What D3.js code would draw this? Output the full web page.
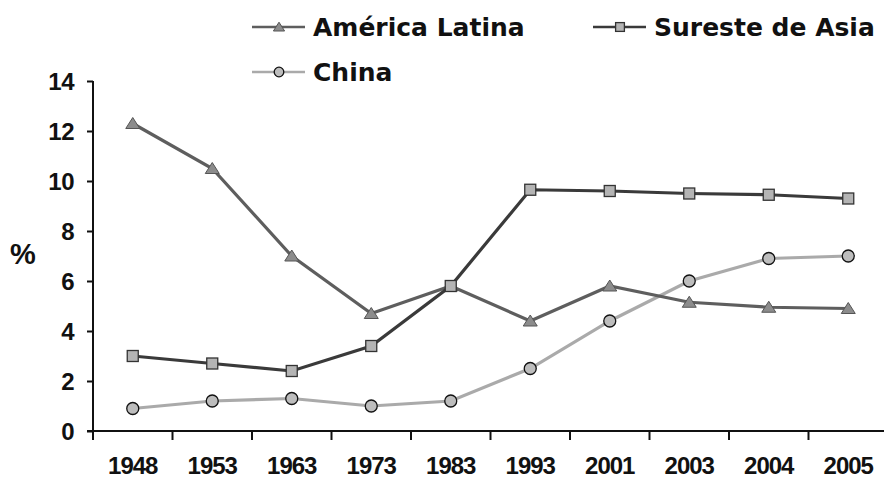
<!DOCTYPE html>
<html>
<head>
<meta charset="utf-8">
<script src="https://cdn.jsdelivr.net/npm/d3@7"></script>
<style>
  body { margin: 0; background: #fff; }
  svg text { font-family: "Liberation Sans", Arial, sans-serif; font-weight: bold; fill: #111; }
  .legend text { font-family: "DejaVu Sans", Verdana, sans-serif; }
</style>
</head>
<body>
<svg width="884" height="479"></svg>
<script>
// data
var years = ["1948", "1953", "1963", "1973", "1983", "1993", "2001", "2003", "2004", "2005"];
var americaLatina = [12.3, 10.5, 7.0, 4.7, 5.8, 4.4, 5.8, 5.15, 4.95, 4.9];
var suresteAsia = [3.0, 2.7, 2.4, 3.4, 5.8, 9.65, 9.6, 9.5, 9.45, 9.3];
var china = [0.9, 1.2, 1.3, 1.0, 1.2, 2.5, 4.4, 6.0, 6.9, 7.0];
var yTicks = [0, 2, 4, 6, 8, 10, 12, 14];

var series = [
  { name: "América Latina", values: americaLatina, line: "#5e5e5e", fill: "#8c8c8c", marker: "triangle" },
  { name: "Sureste de Asia", values: suresteAsia, line: "#3a3a3a", fill: "#b4b4b4", marker: "square" },
  { name: "China", values: china, line: "#aaaaaa", fill: "#bdbdbd", marker: "circle" }
];

var svg = d3.select("svg");
var x = d3.scaleBand().domain(years).range([93, 888]);
var y = d3.scaleLinear().domain([0, 14]).range([431, 81]);

// axes
var yAxis = svg.append("g").attr("transform", "translate(93,0)")
    .call(d3.axisLeft(y).tickValues(yTicks).tickSize(6).tickPadding(13));
yAxis.select(".domain").attr("stroke", "#111").attr("stroke-width", 2).attr("d", "M0," + y(14) + "V" + y(0));
yAxis.selectAll(".tick line").attr("stroke", "#111").attr("stroke-width", 2);
yAxis.selectAll("text").style("font-size", "24px").attr("dy", "0.36em").attr("letter-spacing", "-0.5px");

var xAxis = svg.append("g").attr("transform", "translate(0,431)")
    .call(d3.axisBottom(x).tickSize(0).tickPadding(26));
xAxis.select(".domain").attr("stroke", "#111").attr("stroke-width", 2).attr("d", "M87,0H884");
xAxis.selectAll("text").style("font-size", "24px").attr("letter-spacing", "-1px");
// tick marks on the band boundaries
xAxis.selectAll(".bound").data(years).enter().append("line")
    .attr("class", "bound")
    .attr("x1", function (d) { return x(d); }).attr("x2", function (d) { return x(d); })
    .attr("y1", 0).attr("y2", 9)
    .attr("stroke", "#111").attr("stroke-width", 2);

svg.append("text").attr("x", 23).attr("y", 264).attr("text-anchor", "middle")
    .style("font-size", "29px").text("%");

var cx = function (d, i) { return x(years[i]) + x.bandwidth() / 2; };
var line = d3.line().x(function (d, i) { return cx(d, i); }).y(function (d) { return y(d); });

function drawMarker(g, type, fill, k) {
  k = k || 1;
  if (type === "triangle") {
    g.append("path").attr("d", "M0," + (-6 * k) + "L" + (7 * k) + "," + (5 * k) + "L" + (-7 * k) + "," + (5 * k) + "Z")
      .attr("fill", fill).attr("stroke", "#555").attr("stroke-width", 1);
  } else if (type === "square") {
    g.append("rect").attr("x", -5.5 * k).attr("y", -5.5 * k).attr("width", 11 * k).attr("height", 11 * k)
      .attr("fill", fill).attr("stroke", "#333").attr("stroke-width", 1.3);
  } else {
    g.append("circle").attr("r", 6 * k).attr("fill", fill).attr("stroke", "#111").attr("stroke-width", 1.3);
  }
}

// draw China first, then the others
[series[2], series[0], series[1]].forEach(function (s) {
  svg.append("path").datum(s.values).attr("d", line)
    .attr("fill", "none").attr("stroke", s.line).attr("stroke-width", 3.2);
  s.values.forEach(function (v, i) {
    var g = svg.append("g").attr("transform", "translate(" + cx(v, i) + "," + y(v) + ")");
    drawMarker(g, s.marker, s.fill);
  });
});

// legend
var legendPos = [[252, 27], [593, 27], [252, 72]];
var legend = svg.append("g").attr("class", "legend");
series.forEach(function (s, i) {
  var p = legendPos[i];
  var g = legend.append("g").attr("transform", "translate(" + p[0] + "," + p[1] + ")");
  g.append("line").attr("x1", 0).attr("x2", 53).attr("y1", 0).attr("y2", 0)
    .attr("stroke", s.line).attr("stroke-width", 2.5);
  var m = g.append("g").attr("transform", "translate(27,0)");
  drawMarker(m, s.marker, s.fill, 0.8);
  g.append("text").attr("x", 61).attr("y", 0).attr("dy", "0.36em")
    .style("font-size", "25px").text(s.name);
});
</script>
</body>
</html>
